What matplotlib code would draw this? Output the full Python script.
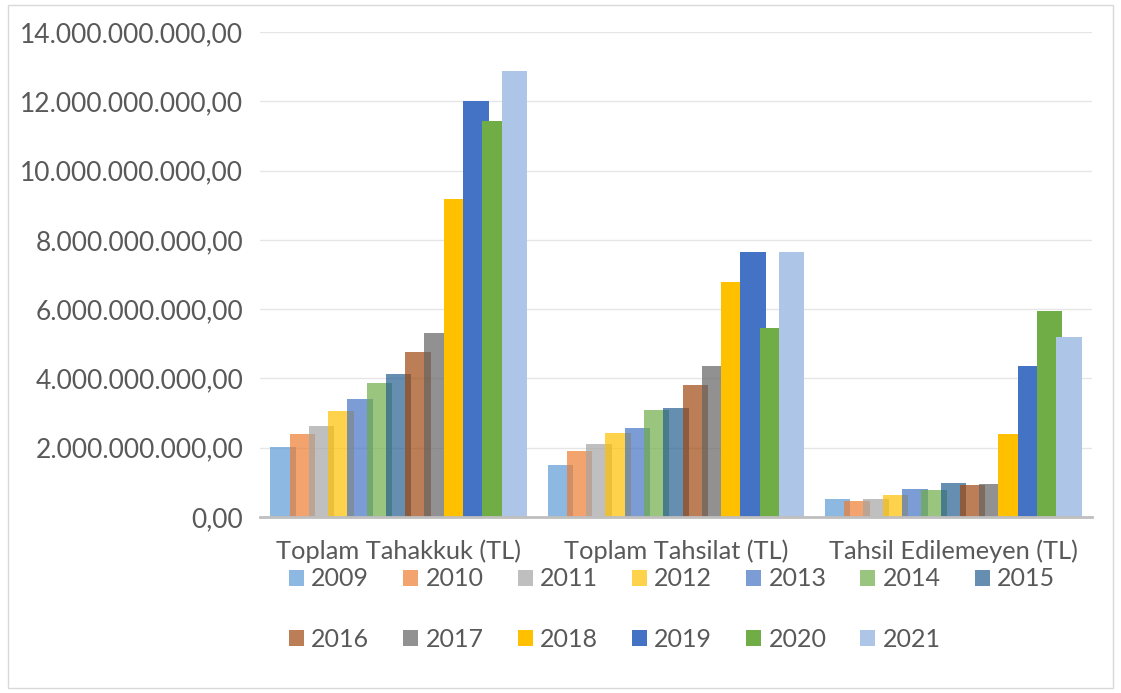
import matplotlib
matplotlib.use("Agg")
import matplotlib.pyplot as plt
from matplotlib.patches import Patch, Rectangle
from matplotlib.ticker import FuncFormatter
import numpy as np

categories = ["Toplam Tahakkuk (TL)", "Toplam Tahsilat (TL)", "Tahsil Edilemeyen (TL)"]
years = ["2009", "2010", "2011", "2012", "2013", "2014", "2015",
         "2016", "2017", "2018", "2019", "2020", "2021"]
tahakkuk = [2.03e9, 2.40e9, 2.63e9, 3.06e9, 3.40e9, 3.88e9, 4.14e9,
            4.75e9, 5.30e9, 9.18e9, 12.00e9, 11.43e9, 12.87e9]
tahsilat = [1.49e9, 1.91e9, 2.10e9, 2.42e9, 2.58e9, 3.08e9, 3.14e9,
            3.81e9, 4.36e9, 6.78e9, 7.64e9, 5.45e9, 7.64e9]
edilemeyen = [0.52e9, 0.47e9, 0.51e9, 0.635e9, 0.81e9, 0.79e9, 0.99e9,
              0.93e9, 0.94e9, 2.40e9, 4.36e9, 5.95e9, 5.21e9]
yticks = [0, 2e9, 4e9, 6e9, 8e9, 10e9, 12e9, 14e9]

colors = ["#5B9BD5", "#ED7D31", "#A5A5A5", "#FFC000", "#4472C4", "#70AD47", "#255E91",
          "#9E480E", "#636363", "#FFC000", "#4472C4", "#70AD47", "#ADC5E7"]
alphas = [0.7] * 9 + [1.0] * 4

FONT = ["Lato", "DejaVu Sans"]
plt.rcParams["font.family"] = FONT
TXT = "#595959"

fig = plt.figure(figsize=(11.21, 6.93), dpi=100)
fig.patches.append(Rectangle((8 / 1121, 5 / 693), 1105 / 1121, 683 / 693,
                             transform=fig.transFigure, fill=False,
                             edgecolor="#D9D9D9", linewidth=1.0))
ax = fig.add_axes([260 / 1121, 176 / 693, 832 / 1121, 485 / 693])

data = np.array([tahakkuk, tahsilat, edilemeyen])  # 3 x 13
x = np.arange(len(categories))
step = 0.0695
width = 0.0919
for i, yr in enumerate(years):
    ax.bar(x + (i - 6) * step, data[:, i], width=width, color=colors[i],
           alpha=alphas[i], linewidth=0, zorder=3 + i)

ax.set_xlim(-0.5, 2.5)
ax.set_ylim(0, 14e9)
ax.set_yticks(yticks)
ax.yaxis.set_major_formatter(FuncFormatter(
    lambda v, p: f"{v:,.2f}".replace(",", "X").replace(".", ",").replace("X", ".")))
ax.grid(axis="y", color="#E6E6E6", linewidth=1.0, zorder=0)
ax.set_axisbelow(True)
for s in ["left", "right", "top"]:
    ax.spines[s].set_visible(False)
ax.spines["bottom"].set_color("#BFBFBF")
ax.spines["bottom"].set_linewidth(2.0)
ax.spines["bottom"].set_zorder(20)
ax.tick_params(axis="both", length=0, labelcolor=TXT)
ax.tick_params(axis="y", pad=12, labelsize=19)
ax.tick_params(axis="x", pad=16, labelsize=18.3)
ax.set_xticks(x)
ax.set_xticklabels(categories)

# legend: row-major order (7 on first row, 6 on second)
order = []
for j in range(7):
    order.append(j)
    if j + 7 < len(years):
        order.append(j + 7)
handles = [Patch(facecolor=colors[i], alpha=alphas[i], edgecolor="none") for i in order]
labels = [years[i] for i in order]
leg = fig.legend(handles, labels, ncol=7, loc="upper center",
                 bbox_to_anchor=(672 / 1121, 1 - 555 / 693), frameon=False,
                 fontsize=18, labelcolor=TXT, handlelength=0.6, handleheight=0.6,
                 handletextpad=0.3, columnspacing=1.35, labelspacing=1.5,
                 borderpad=0)

fig.savefig("out.png", dpi=100)
